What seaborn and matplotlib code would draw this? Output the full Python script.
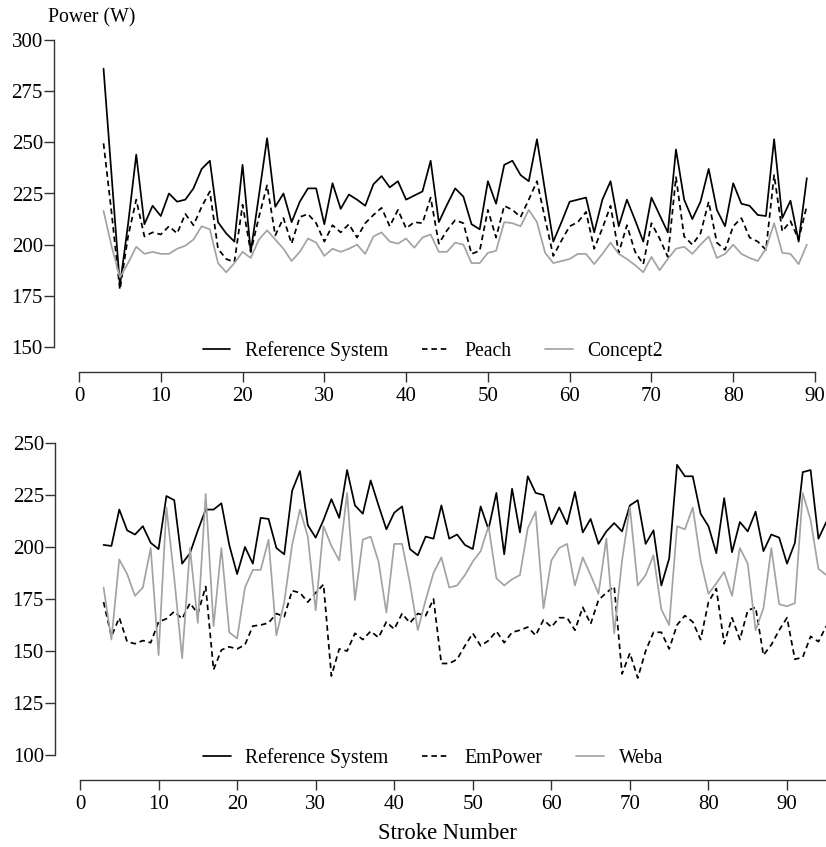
import numpy as np
import pandas as pd
import seaborn as sns
import matplotlib.pyplot as plt

# top panel: strokes 3..89
strokes_top = list(range(3, 90))
ref_top = [286, 233, 180, 210, 244, 210, 219, 214, 225, 221,
           222, 227.5, 237, 241, 211, 205.5, 201.5, 239, 196.5, 224,
           252, 218.5, 225, 211, 221, 227.5, 227.5, 210, 230, 217.5,
           224.5, 222, 219, 229.5, 233.5, 228, 231, 222, 224, 226,
           241, 211, 219.5, 227.5, 223.5, 210, 207.5, 231, 220, 239,
           241, 234, 231, 251.5, 226, 201.5, 211, 221, 222, 223,
           206, 222, 231, 209, 222, 212, 201.5, 223, 214.5, 206,
           246.5, 222, 212.5, 221, 237, 217, 209, 230, 220, 219,
           214.5, 214, 251.5, 213, 221.5, 201.5, 232.5]
peach = [249.5, 215, 178, 204, 222, 204, 206, 205, 209, 205.5,
         215, 209.5, 218.5, 226, 198, 193, 191.5, 219.5, 196.5, 213.5,
         229, 204.5, 213, 200.5, 213.5, 215, 210.5, 201.5, 209.5, 206,
         210, 203.5, 210.5, 214.5, 218, 209, 217, 208, 211, 210.5,
         223, 200.5, 207, 212, 210.5, 195.5, 197, 217, 203.5, 219,
         217, 213.5, 222, 231, 212.5, 194.5, 202, 209, 211, 216,
         198, 208, 219, 196, 209.5, 196.5, 190.5, 210.5, 203, 194,
         233, 204, 200, 205.5, 221, 201, 197.5, 209, 213, 203.5,
         201.5, 197.5, 234, 206.5, 211.5, 202.5, 219]
concept2 = [216.5, 199, 184, 191, 199, 195.5, 196.5, 195.5, 195.5, 198,
            199.5, 202.5, 209, 207.5, 191, 186.5, 191, 196.5, 193.5, 202.5,
            207, 202.5, 198, 192, 196.5, 203, 201, 194.5, 198, 196.5,
            198, 200, 195.5, 204, 206, 201.5, 200.5, 203, 198.5, 203.5,
            205, 196.5, 196.5, 201, 200, 191, 191, 196, 197, 211,
            210.5, 209, 217, 211, 196, 191, 192, 193, 195.5, 195.5,
            190.5, 195.5, 201, 195.5, 193, 190, 186.5, 194, 187.5, 193,
            198, 199, 195.5, 200, 204, 193.5, 195.5, 200, 195.5, 193.5,
            192, 198, 210.5, 196, 195.5, 190.5, 200]

# bottom panel: strokes 3..95
strokes_bot = list(range(3, 96))
ref_bot = [201, 200.5, 218, 208, 206, 210, 202, 199, 224.5, 222.5,
           192, 197, 208, 218, 218, 221, 201, 187, 200, 192,
           214, 213.5, 199.5, 196.5, 227, 236.5, 210.5, 204.5, 213, 223,
           214, 237, 220, 216, 232, 220, 208.5, 216.5, 219.5, 199,
           196, 205, 204, 220, 204, 206, 201, 199, 219.5, 208.5,
           226, 196.5, 228, 207, 234, 226, 225, 211, 219, 211,
           226.5, 207, 213.5, 201.5, 207.5, 211.5, 207.5, 220, 222.5, 201.5,
           208, 181.5, 194.5, 239.5, 234, 234, 216, 210, 197, 223.5,
           197.5, 212, 207.5, 217, 198, 206, 204.5, 192, 202, 236,
           237, 204, 212]
empower = [173.5, 157, 166, 154.5, 153.5, 155, 154, 164, 165.5, 169,
           165.5, 173, 168, 181, 141, 150.5, 152, 151, 153, 162,
           162.5, 163.5, 168, 166.5, 179, 178, 173.5, 178, 182, 138,
           151, 150, 158.5, 155.5, 159.5, 156.5, 164, 160.5, 168, 163.5,
           168, 167, 175, 144, 144, 146, 152.5, 158.5, 152.5, 155,
           159.5, 154, 159, 160, 161.5, 157.5, 165, 161.5, 166, 166,
           160, 171, 163, 174.5, 178, 181, 139, 149, 137, 150,
           159, 159, 151, 162.5, 167, 164, 155.5, 173.5, 180, 153.5,
           166, 155.5, 169.5, 171, 148, 153, 160, 166, 146, 147,
           157, 154.5, 162]
weba = [180.5, 155.5, 194, 187, 176.5, 180.5, 199.5, 148, 219, 185,
        146.5, 199.5, 163.5, 225.5, 162, 199.5, 159, 156, 180.5, 189,
        189, 203.5, 157.5, 173.5, 201, 218, 205, 169.5, 210, 200.5,
        193.5, 226, 174.5, 203.5, 205, 193, 168.5, 201.5, 201.5, 182.5,
        160, 174.5, 187.5, 195, 180.5, 181.5, 186.5, 193, 198, 210,
        185, 181.5, 184.5, 186.5, 209, 217, 170.5, 193.5, 199.5, 201.5,
        181.5, 195, 186.5, 177.5, 204, 158.5, 193.5, 219, 181.5, 186.5,
        196, 170, 162.5, 210, 208.5, 219, 193.5, 177.5, 182.5, 188,
        176.5, 199.5, 192, 160, 170.5, 199.5, 172.5, 171.5, 173, 226,
        213, 189.5, 186.5]

sns.set_theme(style="ticks")
plt.rcParams['font.family'] = ['Liberation Serif', 'DejaVu Serif']
plt.rcParams['font.size'] = 15
plt.rcParams['text.color'] = 'black'
plt.rcParams['lines.dashed_pattern'] = [3.2, 2.2]

W, H = 826, 847
fig = plt.figure(figsize=(W / 100, H / 100), dpi=100)
ax1 = fig.add_axes([79 / W, 1 - 347 / H, (815 - 79) / W, 307 / H])
ax2 = fig.add_axes([80 / W, 1 - 755 / H, (826.3 - 80) / W, 312 / H])

GRAY = '#a3a3a3'
LW = 1.25

sns.lineplot(x=strokes_top, y=ref_top, color='black', lw=LW, label='Reference System', ax=ax1)
sns.lineplot(x=strokes_top, y=peach, color='black', lw=LW, linestyle='--', label='Peach', ax=ax1)
sns.lineplot(x=strokes_top, y=concept2, color=GRAY, lw=LW, label='Concept2', ax=ax1)

sns.lineplot(x=strokes_bot, y=ref_bot, color='black', lw=LW, label='Reference System', ax=ax2)
sns.lineplot(x=strokes_bot, y=empower, color='black', lw=LW, linestyle='--', label='EmPower', ax=ax2)
sns.lineplot(x=strokes_bot, y=weba, color=GRAY, lw=LW, label='Weba', ax=ax2)

ax1.set_xlim(0, 90)
ax1.set_ylim(150, 300)
ax1.set_yticks(range(150, 301, 25))
ax1.set_xticks(range(0, 91, 10))
ax2.set_xlim(0, 95)
ax2.set_ylim(100, 250)
ax2.set_yticks(range(100, 251, 25))
ax2.set_xticks(range(0, 91, 10))

legend_y = {ax1: 1 - 351 / H, ax2: 1 - 758 / H}
for ax, (x0, x1), (y0, y1) in [(ax1, (0, 90), (150, 300)), (ax2, (0, 95), (100, 250))]:
    sns.despine(ax=ax, offset=18)
    ax.spines['left'].set_bounds(y0, y1)
    ax.spines['bottom'].set_bounds(x0, x1)
    for s in ['left', 'bottom']:
        ax.spines[s].set_linewidth(1.0)
        ax.spines[s].set_color('#333333')
    ax.tick_params(axis='both', length=7, width=1.0, color='#333333', labelsize=15, labelcolor='black')
    ax.tick_params(axis='y', pad=1)
    ax.tick_params(axis='x', pad=4)
    ax.set_xlabel('')
    ax.set_ylabel('')
    leg = ax.legend(loc='center', bbox_to_anchor=(433 / W, legend_y[ax]),
                    bbox_transform=fig.transFigure, ncol=3, frameon=False,
                    fontsize=14.2, handlelength=1.4, handletextpad=0.75,
                    columnspacing=1.7, borderaxespad=0)
    for t in leg.get_texts():
        t.set_color('black')

fig.text(48 / W, 1 - 18 / H, 'Power (W)', ha='left', va='center', fontsize=14.2)
fig.text(447 / W, 1 - 833 / H, 'Stroke Number', ha='center', va='center', fontsize=16.3)

plt.savefig('out.png', dpi=100)
